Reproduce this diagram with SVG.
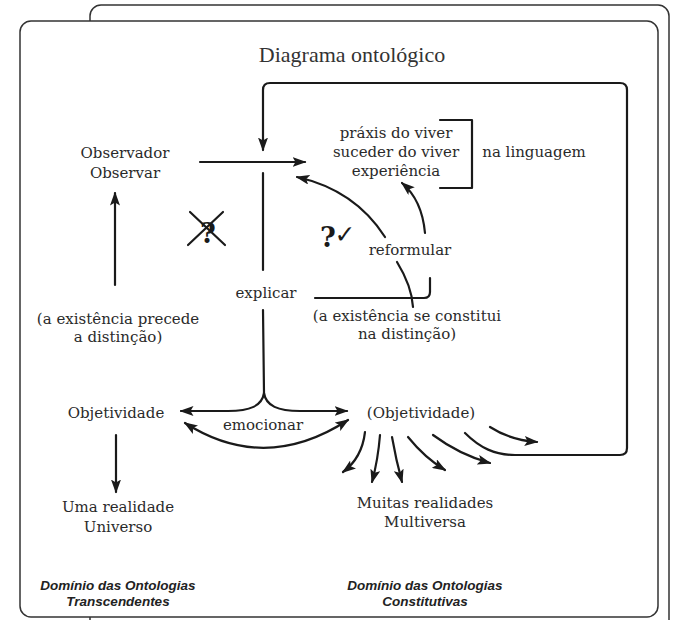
<svg xmlns="http://www.w3.org/2000/svg" width="675" height="620" viewBox="0 0 675 620">
<style>
.t{font-family:"DejaVu Serif","Liberation Serif",serif;font-size:15px;fill:#2a2a2a;text-anchor:middle}
.i{font-family:"Liberation Sans",Arial,sans-serif;font-size:13.5px;font-style:italic;font-weight:bold;fill:#222;text-anchor:middle}
.c{fill:none;stroke:#1a1a1a;stroke-width:2.2;stroke-linecap:round;stroke-linejoin:round}
.f{fill:#fff;stroke:#333;stroke-width:1.5}
.q{font-family:"DejaVu Serif",serif;font-weight:bold;fill:#1a1a1a;text-anchor:middle}
</style>
<defs>
<marker id="ah" viewBox="0 0 14 10" refX="12.5" refY="5" markerWidth="14" markerHeight="10" markerUnits="userSpaceOnUse" orient="auto-start-reverse">
<path d="M0,0 L14,5 L0,10 L3,5 z" fill="#1a1a1a"/>
</marker>
</defs>
<rect width="675" height="620" fill="#fff"/>
<g id="frames">
<rect class="f" x="90" y="5" width="579" height="640" rx="11"/>
<rect class="f" x="20" y="21" width="638" height="596" rx="11"/>
</g>
<g id="title"><text x="352" y="62" style="font-family:'Liberation Serif',serif;font-size:22px;fill:#333;text-anchor:middle">Diagrama ontológico</text></g>
<g id="connectors">
<path class="c" d="M465,433 C480,448 495,455 515,455 L620,455 Q627,455 627,448 L627,90 Q627,83 620,83 L270,83 Q263,83 263,90 L263,150" marker-end="url(#ah)"/>
<path class="c" d="M200,162 L305,162" marker-end="url(#ah)"/>
<path class="c" d="M263,173 L263,270"/>
<path class="c" d="M263,310 L264,393"/>
<path class="c" d="M115,285 L115,193" marker-end="url(#ah)"/>
<path class="c" d="M385,237 Q355,190 297,177" marker-end="url(#ah)"/>
<path class="c" d="M425,233 Q422,200 402,183" marker-end="url(#ah)"/>
<path class="c" d="M397,262 C405,275 412,290 413,307"/>
<path class="c" d="M315,298 L424,298 Q430,298 430,292 L430,278"/>
<path class="c" d="M440,120 L472,120 L472,188 L440,188"/>
<path class="c" d="M264,393 C262,406 250,411 228,411 L181,411" marker-end="url(#ah)"/>
<path class="c" d="M264,393 C266,406 278,411 300,411 L347,411" marker-end="url(#ah)"/>
<path class="c" d="M185,423 Q265,474 348,420" marker-start="url(#ah)" marker-end="url(#ah)"/>
<path class="c" d="M116,435 L116,492" marker-end="url(#ah)"/>
<path class="c" d="M365,432 Q362,458 343,472" marker-end="url(#ah)"/>
<path class="c" d="M380,435 Q378,460 372,482" marker-end="url(#ah)"/>
<path class="c" d="M392,437 Q396,460 402,482" marker-end="url(#ah)"/>
<path class="c" d="M408,437 Q425,458 445,470" marker-end="url(#ah)"/>
<path class="c" d="M433,435 Q460,455 490,463" marker-end="url(#ah)"/>
<path class="c" d="M490,427 Q510,440 537,442" marker-end="url(#ah)"/>
</g>
<g id="observador"><text class="t" x="125" y="158">Observador</text><text class="t" x="125" y="178">Observar</text></g>
<g id="praxis"><text class="t" x="396" y="138">práxis do viver</text><text class="t" x="396" y="157">suceder do viver</text><text class="t" x="396" y="176">experiência</text></g>
<g id="linguagem"><text class="t" x="534" y="157">na linguagem</text></g>
<g id="cross"><text class="q" x="208" y="243" style="font-size:27px">?</text><path class="c" d="M190,212 L225,245 M223,212 L188,245"/></g>
<g id="check"><text class="q" x="328" y="247" style="font-size:27px">?</text><text x="345" y="243" style="font-family:'DejaVu Sans',sans-serif;font-size:25px;font-weight:bold;fill:#1a1a1a;text-anchor:middle">✓</text></g>
<g id="reformular"><text class="t" x="410" y="255">reformular</text></g>
<g id="explicar"><text class="t" x="266" y="298">explicar</text></g>
<g id="precede"><text class="t" x="118" y="324">(a existência precede</text><text class="t" x="118" y="342">a distinção)</text></g>
<g id="constitui"><text class="t" x="407" y="321">(a existência se constitui</text><text class="t" x="407" y="339">na distinção)</text></g>
<g id="objetividade"><text class="t" x="116" y="418">Objetividade</text></g>
<g id="emocionar"><text class="t" x="263" y="430">emocionar</text></g>
<g id="objetividade2"><text class="t" x="421" y="418">(Objetividade)</text></g>
<g id="universo"><text class="t" x="118" y="512">Uma realidade</text><text class="t" x="118" y="532">Universo</text></g>
<g id="multiversa"><text class="t" x="425" y="508">Muitas realidades</text><text class="t" x="425" y="527">Multiversa</text></g>
<g id="transcendentes"><text class="i" x="118" y="590">Domínio das Ontologias</text><text class="i" x="118" y="606">Transcendentes</text></g>
<g id="constitutivas"><text class="i" x="425" y="590">Domínio das Ontologias</text><text class="i" x="425" y="606">Constitutivas</text></g>
</svg>
